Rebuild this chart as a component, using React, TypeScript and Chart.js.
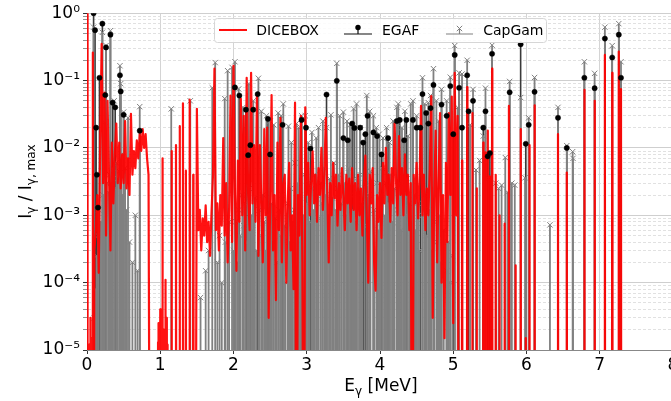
import React, { useEffect, useRef } from 'react';
import { Chart, registerables } from 'chart.js';

Chart.register(...registerables);

// ---------------- data ----------------
const X_TICKS = [0, 1, 2, 3, 4, 5, 6, 7, 8];
const Y_DECADES = [-5, -4, -3, -2, -1, 0];
const Y_MINOR_MULT = [2, 3, 4, 5, 6, 7, 8, 9];
const SERIES_LABELS = ['DICEBOX', 'EGAF', 'CapGam'];
const X_TITLE = ['E', 'γ', ' [MeV]'];
const Y_TITLE = ['I', 'γ', ' / ', 'I', 'γ, max'];

// DICEBOX discrete lines (E [MeV], I/Imax)
const DICEBOX_LINES: [number, number][] = [
  [0.006, 1.0], [0.03, 1.2e-5], [0.045, 3e-5], [0.06, 1.5e-5], [0.08, 0.26], [0.09, 1e-4],
  [0.97, 1.3e-5], [0.98, 2.5e-5], [0.99, 1.2e-5], [1.0, 4e-5], [1.01, 1.5e-5], [1.03, 7e-3],
  [1.05, 2e-5], [1.07, 1.1e-4], [1.09, 3e-5], [1.1, 1.2e-5],
  [1.155, 9e-3], [1.215, 0.011], [1.265, 0.021], [1.31, 0.046], [1.35, 4.6e-3], [1.4, 0.052], [1.45, 4e-3],
  [5.12, 6.5e-3], [5.19, 0.08], [5.26, 0.033], [5.32, 2.5e-3], [5.41, 0.012], [5.44, 8.6e-3],
  [5.47, 0.018], [5.5, 3.8e-3], [5.53, 0.15], [5.58, 4e-3], [5.63, 1e-3], [5.7, 7.5e-4],
  [5.76, 0.042], [5.85, 1.8e-4], [5.92, 0.019], [5.99, 1.5e-5], [6.04, 0.011], [6.11, 0.043],
  [6.43, 0.016], [6.55, 4.3e-3], [6.79, 0.073], [6.93, 0.05], [7.07, 0.24], [7.17, 0.13],
  [7.26, 0.27], [7.29, 0.075],
];

// DICEBOX binned continuum (bin width 0.02 MeV)
const DICEBOX_BIN = 0.02;
const DICEBOX_LOW_START = 0.1;
const DICEBOX_LOW: number[] = [
  3e-4, 6e-4, 2e-3, 1.4e-4, 0.012, 0.35, 3e-3, 0.066, 5e-4, 0.05,
  4e-3, 3e-4, 0.012, 1.5e-3, 8e-3, 0.023, 3e-3, 0.012, 2.5e-3, 8e-3,
  3e-3, 0.025, 2.5e-3, 7e-3, 2e-3, 0.032, 4e-3, 9e-3, 5e-3, 0.013,
  7e-3, 0.016, 9e-3, 0.019, 0.01, 0.016, 7e-3, 4e-3, 0,
];
const DICEBOX_HIGH_START = 1.48;
const DICEBOX_HIGH: number[] = [
  0,
  0.038, 6e-4, 1.2e-3, 3e-4, 9e-4, 5e-4, 1.4e-3, 4e-4, 8e-4, 2.5e-4,
  1.1e-3, 4e-3, 0.15, 6e-4, 1.5e-3, 3e-4, 2e-3, 7e-4, 0.014, 5e-4,
  3e-3, 2e-4, 1.2e-3, 0.06, 4e-4, 0.166, 2e-3, 1.5e-4, 6.5e-3, 8e-4,
  0.054, 1e-3, 0.03, 3e-4, 0.11, 2e-3, 6e-4, 0.13, 1.5e-3, 0.011,
  8e-4, 0.064, 2.5e-4, 0.011, 1.5e-3, 2e-4, 0.019, 1e-3, 0.02, 3e-5,
  1.5e-3, 0.061, 3e-4, 2e-3, 5.5e-5, 0.012, 6e-4, 0.028, 2e-4, 3e-3,
  4e-3, 1e-4, 1.5e-3, 6e-3, 3e-4, 1e-3, 8e-5, 0.047, 0, 2e-3,
  5e-4, 0.03, 2e-4, 0, 0.04, 2e-3, 6e-3, 1e-3, 3e-3, 9e-3,
  1.5e-3, 4e-3, 8e-4, 5e-3, 2e-3, 0.01, 1.2e-3, 4e-3, 0.028, 2.5e-3,
  2e-4, 3e-3, 1e-3, 6e-3, 1.8e-3, 4e-3, 7e-4, 3e-3, 1.2e-3, 5e-3,
  2e-3, 6e-4, 4e-3, 1.5e-3, 3.5e-3, 8e-4, 5e-3, 1.2e-3, 3e-3, 6e-4,
  4e-3, 1e-3, 2.5e-3, 5e-4, 3e-3, 7.7e-3, 9e-4, 1e-4, 4e-3, 1.5e-3,
  5e-3, 2e-4, 7.6e-5, 2e-3, 8e-4, 3e-3, 4.6e-4, 6e-3, 1.5e-3, 0.01,
  2e-3, 4e-3, 8e-4, 5e-3, 1.5e-3, 0.023, 3e-3, 1e-3, 0.015, 2e-3,
  5e-3, 1e-3, 8e-3, 2e-3, 4e-3, 6e-4, 3e-3, 0, 4e-3, 1.5e-3,
  6e-3, 9e-4, 3e-3, 0.042, 1e-3, 4e-3, 6e-4, 2.5e-3, 1e-3, 5e-3,
  0.059, 3e-5, 2e-3, 0.018, 2e-4, 3e-3, 0.033, 1e-4, 2e-3, 1.5e-5,
  6e-3, 4e-4, 0.033, 2e-3, 0.058, 2.5e-5, 0.13, 1e-3, 0.03,
  0,
];

// EGAF intensities (E [MeV], I/Imax)
const EGAF: [number, number][] = [
  [0.09, 1.0], [0.11, 0.56], [0.125, 0.02], [0.135, 4e-3], [0.15, 1.3e-3], [0.17, 0.11], [0.21, 0.7],
  [0.25, 0.061], [0.26, 0.31], [0.32, 0.48], [0.35, 0.047], [0.385, 0.04], [0.45, 0.12], [0.46, 0.069],
  [0.5, 0.031], [0.72, 0.018],
  [2.02, 0.079], [2.08, 0.06], [2.17, 0.037], [2.2, 7.8e-3], [2.23, 0.011], [2.27, 0.037], [2.33, 0.063],
  [2.47, 0.027], [2.5, 8e-3], [2.67, 0.022], [2.93, 0.026], [2.99, 0.02],
  [3.05, 9.8e-3], [3.27, 0.062], [3.41, 0.099], [3.5, 0.014], [3.56, 0.013], [3.62, 0.023], [3.65, 0.0198],
  [3.73, 0.02], [3.77, 0.012], [3.8, 0.016], [3.83, 0.03], [3.91, 0.017], [3.96, 0.015], [4.02, 8e-3],
  [4.11, 0.014], [4.23, 0.025], [4.27, 0.026], [4.33, 0.013], [4.36, 0.026], [4.45, 0.026], [4.5, 0.02],
  [4.55, 0.02], [4.58, 0.063], [4.63, 0.033], [4.66, 0.023], [4.69, 0.039], [4.73, 0.086], [4.84, 0.044],
  [4.91, 0.03], [4.96, 0.083], [5.0, 0.016], [5.02, 0.24], [5.08, 0.078], [5.12, 0.02], [5.19, 0.12],
  [5.21, 0.035], [5.27, 0.05], [5.41, 0.02], [5.44, 0.035], [5.47, 7.5e-3], [5.5, 8.4e-3], [5.53, 0.25],
  [5.77, 0.067], [5.92, 0.345], [5.99, 0.0115], [6.03, 0.022], [6.11, 0.068], [6.43, 0.028],
  [6.55, 0.01], [6.79, 0.11], [6.93, 0.077], [7.07, 0.42], [7.17, 0.22], [7.26, 0.48], [7.29, 0.11],
];

// CapGam intensities: strong lines
const CAPGAM: [number, number][] = [
  [0.09, 0.62], [0.21, 0.52], [0.24, 0.024], [0.26, 0.33], [0.32, 0.55], [0.37, 0.05], [0.45, 0.166],
  [0.46, 0.09], [0.5, 0.034], [0.56, 0.028], [0.72, 0.041], [1.15, 0.038], [1.41, 0.05],
  [1.71, 0.078], [1.75, 0.185], [1.88, 0.054], [1.92, 0.14], [1.98, 0.157], [2.02, 0.19], [2.07, 0.075],
  [2.13, 0.04], [2.21, 0.09], [2.27, 0.05], [2.34, 0.108], [2.38, 0.035], [2.45, 0.03], [2.5, 0.025],
  [2.55, 0.022], [2.61, 0.033], [2.65, 0.03], [2.68, 0.045], [2.75, 0.021], [2.79, 0.012], [2.84, 6e-3],
  [2.86, 0.023], [2.89, 0.02], [2.93, 0.03], [2.98, 0.03],
  [3.02, 0.012], [3.07, 0.017], [3.13, 0.014], [3.16, 0.02], [3.22, 0.025], [3.27, 0.02], [3.33, 0.031],
  [3.41, 0.18], [3.45, 0.03], [3.5, 0.034], [3.55, 0.025], [3.59, 0.022], [3.64, 0.038], [3.68, 0.045],
  [3.73, 0.02], [3.82, 0.06], [3.86, 0.035], [3.91, 0.03], [3.95, 0.02], [3.99, 0.016], [4.04, 0.014],
  [4.09, 0.02], [4.13, 0.012], [4.18, 0.025], [4.23, 0.04], [4.25, 0.045], [4.3, 0.02], [4.34, 0.035],
  [4.38, 0.015], [4.42, 0.045], [4.45, 0.05],
  [4.5, 0.03], [4.58, 0.11], [4.61, 0.045], [4.66, 0.047], [4.69, 0.06], [4.73, 0.15], [4.77, 0.05],
  [4.8, 0.025], [4.84, 0.074], [4.91, 0.05], [4.96, 0.112], [5.02, 0.33], [5.06, 0.04], [5.08, 0.13],
  [5.12, 0.125], [5.19, 0.2], [5.23, 0.022], [5.27, 0.074], [5.31, 4.7e-3], [5.36, 6.5e-3], [5.41, 0.015],
  [5.44, 0.077], [5.48, 3.5e-3], [5.53, 0.335], [5.58, 3e-3], [5.62, 2.5e-3], [5.66, 2.8e-3],
  [5.71, 7.2e-3], [5.74, 2.2e-3], [5.77, 0.097], [5.8, 3e-3], [5.84, 2.8e-3], [5.92, 0.056],
  [5.98, 3.6e-3], [6.03, 0.028], [6.11, 0.111], [6.32, 7.2e-4], [6.43, 0.04], [6.55, 0.0108],
  [6.63, 8.8e-3], [6.635, 7e-3], [6.79, 0.19], [6.93, 0.128], [7.07, 0.62], [7.17, 0.33], [7.26, 0.7],
  [7.29, 0.19],
];

// CapGam intensities: weak lines
const CAPGAM_WEAK: [number, number][] = [
  [0.1, 3e-5], [0.12, 8e-5], [0.13, 2.5e-4], [0.15, 5e-4], [0.16, 1.2e-3], [0.19, 8e-4], [0.22, 2e-3],
  [0.235, 1.5e-3], [0.27, 3e-3], [0.29, 2.2e-3], [0.31, 4e-3], [0.33, 3e-3], [0.35, 5e-3], [0.38, 2.5e-3],
  [0.4, 6e-3], [0.42, 3.5e-3], [0.44, 4.5e-3], [0.47, 8e-3], [0.49, 2e-3], [0.52, 5e-3], [0.54, 1.2e-3],
  [0.58, 4e-4], [0.62, 2e-4], [0.66, 1e-3], [0.69, 1.5e-4],
  [1.55, 6e-5], [1.62, 1.5e-4], [1.66, 3e-4], [1.78, 2e-4], [1.81, 5e-4], [1.84, 1e-4], [1.89, 4e-4],
  [1.94, 8e-4],
  [2.0, 3e-4], [2.03, 8e-4], [2.05, 2e-4], [2.07, 1.2e-3], [2.09, 5e-4], [2.12, 2e-3], [2.14, 7e-4],
  [2.16, 1.5e-3], [2.19, 4e-4], [2.22, 2.5e-3], [2.24, 1e-3], [2.26, 6e-4], [2.29, 1.8e-3], [2.31, 3e-4],
  [2.35, 1.2e-3], [2.38, 5e-4], [2.4, 2e-3], [2.42, 8e-4], [2.44, 3e-4], [2.47, 1e-3], [2.49, 6e-4],
  [2.52, 1.5e-3], [2.54, 4e-4], [2.57, 9e-4], [2.59, 2e-4], [2.62, 1.2e-3], [2.64, 5e-4], [2.66, 2e-3],
  [2.69, 7e-4], [2.71, 1e-4], [2.74, 1.5e-3], [2.76, 4e-4], [2.78, 2.5e-3], [2.81, 8e-4], [2.83, 1.2e-3],
  [2.87, 3e-3], [2.89, 6e-4], [2.91, 2e-3], [2.95, 1e-3], [2.97, 4e-3],
  [3.0, 1.5e-3], [3.02, 3e-3], [3.04, 8e-4], [3.07, 2.5e-3], [3.09, 1.2e-3], [3.11, 4e-3], [3.14, 2e-3],
  [3.16, 9e-4], [3.19, 3e-3], [3.21, 1.5e-3], [3.24, 5e-3], [3.26, 2e-3], [3.29, 1e-3], [3.31, 3.5e-3],
  [3.35, 1.8e-3], [3.37, 6e-3], [3.39, 1.2e-3], [3.42, 2.5e-3], [3.44, 4e-3], [3.47, 1.5e-3],
  [3.52, 3e-3], [3.54, 1e-3], [3.57, 5e-3], [3.6, 2e-3], [3.62, 1.2e-3], [3.65, 3.5e-3], [3.67, 8e-4],
  [3.7, 2.5e-3], [3.73, 4e-3], [3.75, 1.5e-3], [3.79, 3e-3], [3.82, 7e-4], [3.85, 2e-3], [3.87, 4.5e-3],
  [3.92, 1.2e-3], [3.96, 3e-3], [3.98, 6e-4], [4.01, 2e-3], [4.03, 5e-3], [4.06, 1e-3], [4.08, 3e-3],
  [4.11, 1.5e-3], [4.15, 4e-3], [4.17, 8e-4], [4.2, 2.5e-3], [4.24, 1.2e-3], [4.27, 3e-3], [4.29, 6e-4],
  [4.32, 2e-3], [4.35, 1e-3], [4.37, 3.5e-3], [4.4, 1.5e-3], [4.43, 8e-4], [4.47, 2e-3], [4.49, 6e-4],
  [4.52, 1.5e-3], [4.54, 3e-4], [4.58, 1e-3], [4.61, 2e-3], [4.63, 5e-4], [4.67, 1.2e-3], [4.7, 3e-4],
  [4.74, 8e-4], [4.78, 4e-4], [4.81, 1e-3], [4.83, 2e-4], [4.87, 6e-4], [4.91, 1.5e-4], [4.93, 4e-4],
  [4.96, 1e-4], [4.99, 2.5e-4],
];

// ---------------- helpers ----------------
const FLOOR = 1e-9; // log axis cannot show zero: empty bins sit far below the axis
const LINE_HALF_WIDTH = 0.004; // MeV, half width of a discrete DICEBOX bin

const isDecade = (v: number | undefined) => {
  if (v === undefined || v === null || !(v > 0)) return false;
  const l = Math.log10(v);
  return Math.abs(l - Math.round(l)) < 1e-9;
};

const SUP: Record<string, string> = { '-': '⁻', '0': '⁰', '1': '¹', '2': '²', '3': '³', '4': '⁴', '5': '⁵', '6': '⁶', '7': '⁷', '8': '⁸', '9': '⁹' };
const sup = (n: number) => String(n).split('').map((c) => SUP[c] || c).join('');

const Y_TICK_VALUES: number[] = (() => {
  const out: number[] = [];
  Y_DECADES.forEach((d) => {
    out.push(Math.pow(10, d));
    if (d < 0) Y_MINOR_MULT.forEach((m) => out.push(m * Math.pow(10, d)));
  });
  return out.sort((a, b) => a - b);
})();

function buildDicebox() {
  const pts: { x: number; y: number }[] = [];
  DICEBOX_LINES.forEach(([e, v]) => {
    pts.push({ x: e - LINE_HALF_WIDTH, y: 0 }, { x: e, y: v }, { x: e + LINE_HALF_WIDTH, y: 0 });
  });
  DICEBOX_LOW.forEach((v, i) => pts.push({ x: +(DICEBOX_LOW_START + i * DICEBOX_BIN).toFixed(4), y: v }));
  DICEBOX_HIGH.forEach((v, i) => pts.push({ x: +(DICEBOX_HIGH_START + i * DICEBOX_BIN).toFixed(4), y: v }));
  pts.sort((a, b) => a.x - b.x);
  return pts.map((p) => ({ x: p.x, y: p.y > 0 ? p.y : FLOOR }));
}

const toXY = (arr: [number, number][]) => arr.map(([x, y]) => ({ x, y }));

const FONT = '"DejaVu Sans", Verdana, sans-serif';

type Piece = { t: string; sub?: boolean };
function drawRich(ctx: CanvasRenderingContext2D, pieces: Piece[], cx: number, baseY: number, size: number) {
  const subSize = Math.round(size * 0.7);
  let total = 0;
  const widths = pieces.map((p) => {
    ctx.font = `${p.sub ? subSize : size}px ${FONT}`;
    const w = ctx.measureText(p.t).width;
    total += w;
    return w;
  });
  let x = cx - total / 2;
  ctx.textBaseline = 'alphabetic';
  ctx.textAlign = 'left';
  pieces.forEach((p, i) => {
    ctx.font = `${p.sub ? subSize : size}px ${FONT}`;
    ctx.fillText(p.t, x, baseY + (p.sub ? size * 0.24 : 0));
    x += widths[i];
  });
}

const overlayPlugin = {
  id: 'overlay',
  afterDraw(chart: any) {
    const ctx: CanvasRenderingContext2D = chart.ctx;
    const a = chart.chartArea;
    ctx.save();
    ctx.fillStyle = '#000';
    // x-axis title
    drawRich(ctx, [{ t: X_TITLE[0] }, { t: X_TITLE[1], sub: true }, { t: X_TITLE[2] }], (a.left + a.right) / 2 + 1, 391, 17);
    // y-axis title
    ctx.save();
    ctx.translate(31, (a.top + a.bottom) / 2);
    ctx.rotate(-Math.PI / 2);
    drawRich(
      ctx,
      [{ t: Y_TITLE[0] }, { t: Y_TITLE[1], sub: true }, { t: Y_TITLE[2] }, { t: Y_TITLE[3] }, { t: Y_TITLE[4], sub: true }],
      0,
      0,
      17
    );
    ctx.restore();

    // legend box
    const bx = 214.5, by = 18.5, bw = 332, bh = 24, r = 3;
    ctx.beginPath();
    ctx.moveTo(bx + r, by);
    ctx.lineTo(bx + bw - r, by);
    ctx.arcTo(bx + bw, by, bx + bw, by + r, r);
    ctx.lineTo(bx + bw, by + bh - r);
    ctx.arcTo(bx + bw, by + bh, bx + bw - r, by + bh, r);
    ctx.lineTo(bx + r, by + bh);
    ctx.arcTo(bx, by + bh, bx, by + bh - r, r);
    ctx.lineTo(bx, by + r);
    ctx.arcTo(bx, by, bx + r, by, r);
    ctx.closePath();
    ctx.fillStyle = 'rgba(255,255,255,0.85)';
    ctx.fill();
    ctx.strokeStyle = '#d6d6d6';
    ctx.lineWidth = 1;
    ctx.stroke();

    // DICEBOX symbol
    ctx.strokeStyle = 'rgba(255,0,0,0.95)';
    ctx.lineWidth = 2;
    ctx.beginPath();
    ctx.moveTo(219, 30);
    ctx.lineTo(247, 30);
    ctx.stroke();
    // EGAF symbol
    ctx.strokeStyle = '#111';
    ctx.lineWidth = 1.2;
    ctx.beginPath();
    ctx.moveTo(344, 34);
    ctx.lineTo(372, 34);
    ctx.moveTo(358, 34);
    ctx.lineTo(358, 27.5);
    ctx.stroke();
    ctx.fillStyle = '#000';
    ctx.beginPath();
    ctx.arc(358, 27.5, 2.7, 0, Math.PI * 2);
    ctx.fill();
    // CapGam symbol
    ctx.strokeStyle = '#808080';
    ctx.lineWidth = 1.2;
    ctx.beginPath();
    ctx.moveTo(446, 34);
    ctx.lineTo(473, 34);
    ctx.moveTo(459.5, 34);
    ctx.lineTo(459.5, 29);
    ctx.stroke();
    ctx.lineWidth = 1;
    ctx.beginPath();
    ctx.moveTo(456.8, 25.8);
    ctx.lineTo(462.2, 31.2);
    ctx.moveTo(462.2, 25.8);
    ctx.lineTo(456.8, 31.2);
    ctx.stroke();

    // legend texts
    ctx.fillStyle = '#000';
    ctx.font = `14px ${FONT}`;
    ctx.textAlign = 'left';
    ctx.textBaseline = 'alphabetic';
    ctx.fillText(SERIES_LABELS[0], 256.3, 34.5);
    ctx.fillText(SERIES_LABELS[1], 382, 34.5);
    ctx.fillText(SERIES_LABELS[2], 483.2, 34.5);
    ctx.restore();
  },
};

export default function App() {
  const ref = useRef<HTMLCanvasElement>(null);

  useEffect(() => {
    const canvas = ref.current;
    if (!canvas) return;
    Chart.defaults.font.family = FONT;
    const capAll = toXY([...CAPGAM, ...CAPGAM_WEAK]);
    const egaf = toXY(EGAF);
    const chart = new Chart(canvas, {
      type: 'bar',
      data: {
        datasets: [
          {
            type: 'bar',
            label: SERIES_LABELS[1],
            data: egaf,
            backgroundColor: '#3a3a3a',
            borderWidth: 0,
            barThickness: 1.6,
            grouped: false,
            inflateAmount: 0,
            order: 6,
          } as any,
          {
            type: 'bar',
            label: SERIES_LABELS[2],
            data: capAll,
            backgroundColor: '#808080',
            borderWidth: 0,
            barThickness: 1.8,
            grouped: false,
            inflateAmount: 0,
            order: 5,
          } as any,
          {
            type: 'scatter',
            label: SERIES_LABELS[2],
            data: capAll,
            pointStyle: 'crossRot',
            pointRadius: 3.8,
            pointBorderColor: '#808080',
            pointBackgroundColor: '#808080',
            pointBorderWidth: 1,
            order: 4,
          } as any,
          {
            type: 'line',
            label: SERIES_LABELS[0],
            data: buildDicebox(),
            borderColor: 'rgba(255,0,0,0.93)',
            borderWidth: 2.2,
            pointRadius: 0,
            tension: 0,
            borderJoinStyle: 'round',
            fill: false,
            order: 3,
          } as any,
          {
            type: 'scatter',
            label: SERIES_LABELS[1],
            data: egaf,
            pointStyle: 'circle',
            pointRadius: 2.6,
            pointBackgroundColor: '#000',
            pointBorderColor: '#000',
            pointBorderWidth: 0.5,
            order: 2,
          } as any,
        ],
      },
      options: {
        animation: false,
        responsive: false,
        maintainAspectRatio: false,
        events: [],
        layout: { padding: { top: 12, right: 27, left: 0, bottom: 0 } },
        plugins: { legend: { display: false }, tooltip: { enabled: false }, title: { display: false } },
        scales: {
          x: {
            type: 'linear',
            min: 0,
            max: 8,
            offset: false,
            afterBuildTicks: (s: any) => {
              s.ticks = X_TICKS.map((v) => ({ value: v }));
            },
            afterFit: (s: any) => {
              s.height = 51;
            },
            ticks: {
              color: '#000',
              font: { size: 17, family: FONT },
              padding: 1,
              maxRotation: 0,
              autoSkip: false,
              callback: (v: any) => String(v),
            },
            grid: { color: '#d4d4d4', lineWidth: 1, tickLength: 4, tickColor: '#333', offset: false },
            border: { color: '#888', width: 1 },
          },
          y: {
            type: 'logarithmic',
            min: 1e-5,
            max: 1,
            beginAtZero: false,
            afterBuildTicks: (s: any) => {
              s.ticks = Y_TICK_VALUES.map((v) => ({ value: v }));
            },
            afterFit: (s: any) => {
              s.width = 87;
            },
            ticks: {
              color: '#000',
              font: { size: 17, family: FONT },
              padding: 3,
              autoSkip: false,
              callback: (v: any) => (isDecade(Number(v)) ? '10' + sup(Math.round(Math.log10(Number(v)))) : ''),
            },
            grid: {
              color: (c: any) => (isDecade(c.tick?.value) ? '#cfcfcf' : '#d9d9d9'),
              lineWidth: (c: any) => (isDecade(c.tick?.value) ? 1 : 0.8),
              tickLength: 4,
              tickColor: (c: any) => (isDecade(c.tick?.value) ? '#333' : '#777'),
            },
            border: {
              color: '#888',
              width: 1,
              dash: (c: any) => (c.tick && !isDecade(c.tick.value) ? [3, 2] : []),
            },
          },
        },
      } as any,
      plugins: [overlayPlugin],
    });
    return () => chart.destroy();
  }, []);

  return (
    <div style={{ position: 'fixed', left: 0, top: 0, width: 671, height: 401, overflow: 'hidden', background: '#fff' }}>
      <canvas ref={ref} width={700} height={401} style={{ display: 'block', width: 700, height: 401 }} />
    </div>
  );
}
